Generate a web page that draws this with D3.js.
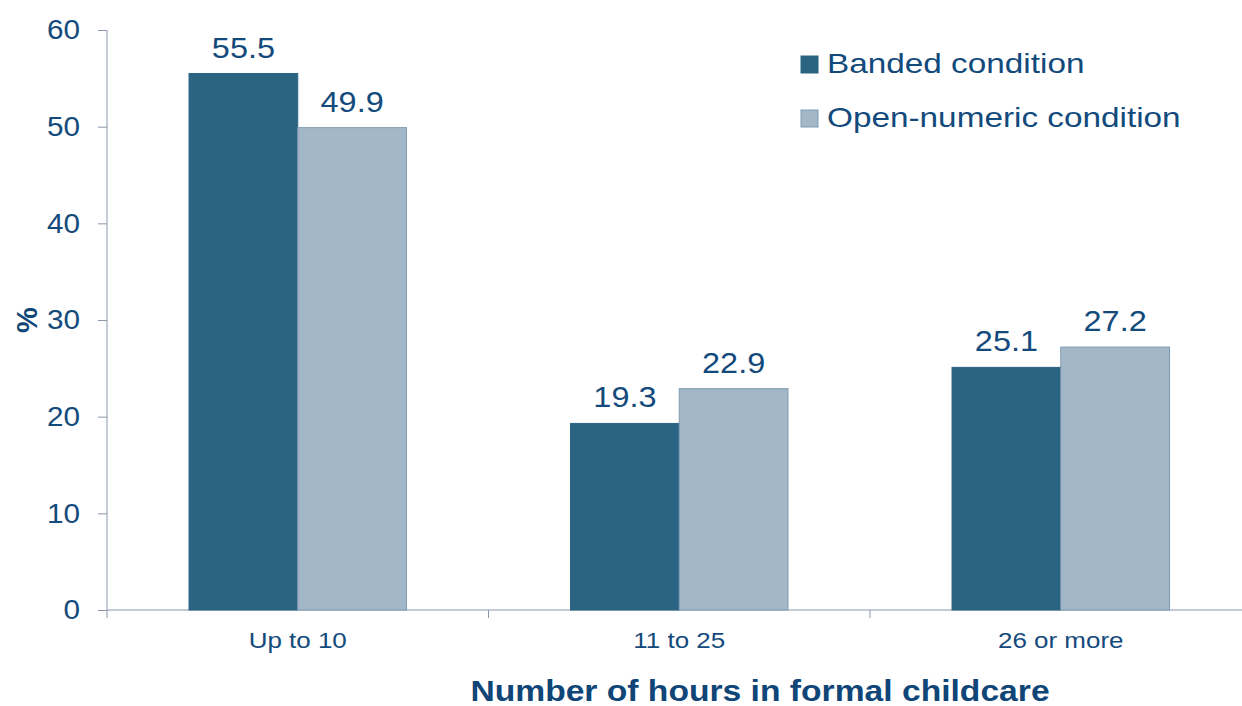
<!DOCTYPE html>
<html>
<head>
<meta charset="utf-8">
<script src="https://cdn.jsdelivr.net/npm/d3@7"></script>
<style>
  body { margin: 0; background: white; }
  svg { display: block; font-family: "Liberation Sans", Arial, sans-serif; }
</style>
</head>
<body>
<svg width="1242" height="706"></svg>
<script>
let categories = ['Up to 10', '11 to 25', '26 or more'];
let seriesNames = ['Banded condition', 'Open-numeric condition'];
let banded = [55.5, 19.3, 25.1];
let openNumeric = [49.9, 22.9, 27.2];
let yTicks = [0, 10, 20, 30, 40, 50, 60];

let colors = ['#2b6482', '#a2b8c8'];
let strokes = ['#2b6482', '#7f9bb3'];
let textColor = '#134a7c';
let axisColor = '#8a96ae';

let svg = d3.select('svg');
let x0 = 107, y0 = 610;

let x = d3.scaleBand().domain(categories).range([x0, 1251.5]).paddingInner(0.43).paddingOuter(0.215);
let xs = d3.scaleBand().domain(seriesNames).range([0, x.bandwidth()]);
let y = d3.scaleLinear().domain([0, 60]).range([y0, 30]);

let rows = categories.map(function(c, i) {
    return {cat: c, values: [banded[i], openNumeric[i]]};
});

// the source picture has its text a bit wider than normal, so stretch it horizontally
function stretch(sel, sx, px, py) {
    sel.attr('transform', function(d, i) {
        return 'translate(' + px(d, i) + ',' + py(d, i) + ') scale(' + sx + ',1)';
    }).attr('x', 0).attr('y', 0);
}

// axes
let yAxis = svg.append('g').attr('transform', 'translate(' + x0 + ',0)')
    .call(d3.axisLeft(y).tickValues(yTicks).tickSize(9).tickPadding(18));
yAxis.select('.domain').attr('stroke', axisColor).attr('d', 'M0,' + y(60) + 'V' + y0);
yAxis.selectAll('.tick line').attr('stroke', axisColor);
yAxis.selectAll('.tick text').attr('fill', textColor).style('font-size', '28px')
    .call(stretch, 1.06, function() {return -27}, function() {return 0});

let xAxis = svg.append('g').attr('transform', 'translate(0,' + y0 + ')')
    .call(d3.axisBottom(x).tickSize(0).tickPadding(0));
xAxis.select('.domain').attr('stroke', axisColor).attr('d', 'M' + x0 + ',0H1242');
xAxis.selectAll('.tick text').attr('fill', textColor).style('font-size', '22px').attr('dy', null)
    .call(stretch, 1.18, function() {return 0}, function() {return 38});

// category separators
let step = x.step();
svg.append('g').selectAll('line')
    .data(d3.range(categories.length + 1))
    .enter().append('line')
    .attr('x1', function(i) {return x0 + i * step})
    .attr('x2', function(i) {return x0 + i * step})
    .attr('y1', y0).attr('y2', y0 + 8)
    .attr('stroke', axisColor);

// bars
let groups = svg.append('g').selectAll('g')
    .data(rows).enter().append('g')
    .attr('transform', function(d) {return 'translate(' + x(d.cat) + ',0)'});

groups.selectAll('rect')
    .data(function(d) {return d.values})
    .enter().append('rect')
    .attr('x', function(d, i) {return xs(seriesNames[i])})
    .attr('y', function(d) {return y(d)})
    .attr('width', xs.bandwidth())
    .attr('height', function(d) {return y0 - y(d)})
    .attr('fill', function(d, i) {return colors[i]})
    .attr('stroke', function(d, i) {return strokes[i]})
    .attr('stroke-width', 1);

groups.selectAll('text')
    .data(function(d) {return d.values})
    .enter().append('text')
    .attr('text-anchor', 'middle')
    .attr('fill', textColor)
    .style('font-size', '30px')
    .text(function(d) {return d.toFixed(1)})
    .call(stretch, 1.08,
        function(d, i) {return xs(seriesNames[i]) + xs.bandwidth() / 2},
        function(d) {return y(d) - 16});

// legend
let legend = svg.append('g').selectAll('g')
    .data(seriesNames).enter().append('g')
    .attr('transform', function(d, i) {return 'translate(801,' + (56 + i * 54) + ')'});
legend.append('rect')
    .attr('width', 17).attr('height', 17)
    .attr('fill', function(d, i) {return colors[i]})
    .attr('stroke', function(d, i) {return strokes[i]});
legend.append('text')
    .attr('fill', textColor)
    .style('font-size', '28px')
    .text(function(d) {return d})
    .call(stretch, 1.19, function() {return 26}, function() {return 17});

// titles
svg.append('text')
    .attr('text-anchor', 'middle')
    .attr('fill', '#0f4577')
    .style('font-size', '29px').style('font-weight', 'bold')
    .text('Number of hours in formal childcare')
    .call(stretch, 1.16, function() {return 760}, function() {return 701});

svg.append('text')
    .attr('transform', 'translate(37,320) rotate(-90)')
    .attr('text-anchor', 'middle')
    .attr('fill', '#0f4577')
    .style('font-size', '29px').style('font-weight', 'bold')
    .text('%');
</script>
</body>
</html>
